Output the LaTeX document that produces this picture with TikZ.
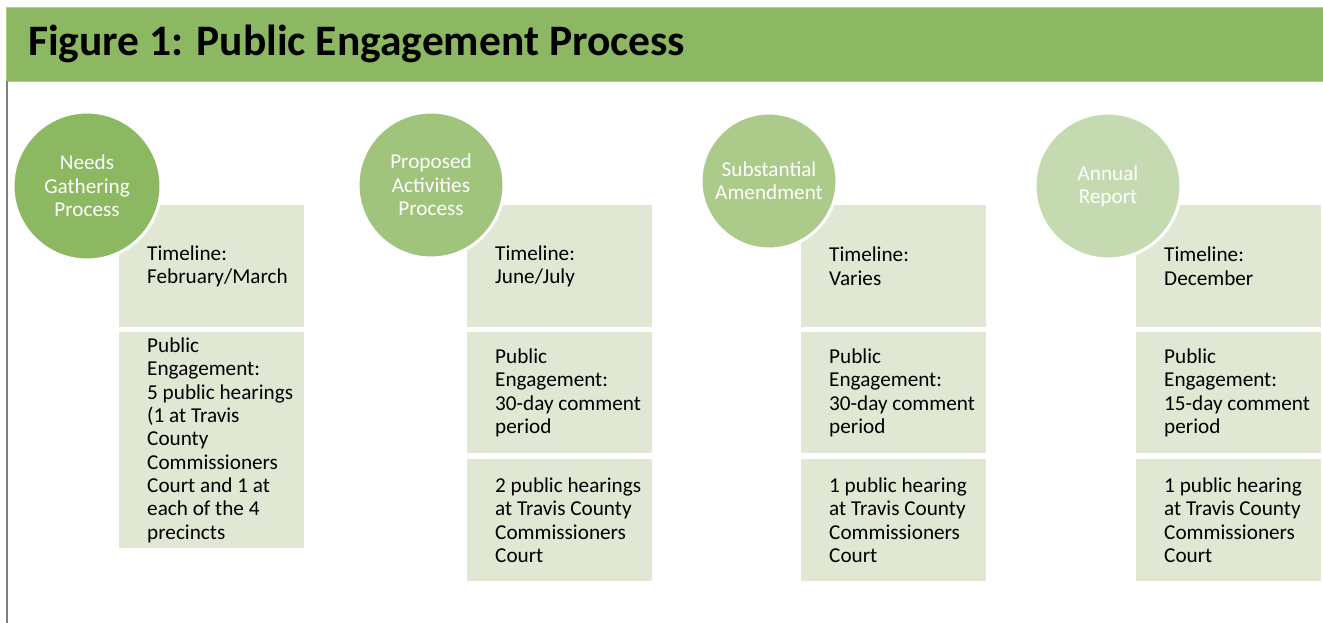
\documentclass[tikz,border=0pt]{standalone}
\usepackage{fontspec}
\setmainfont{Carlito}
\definecolor{hdr}{RGB}{141,184,99}
\definecolor{hdredge}{RGB}{178,208,140}
\definecolor{cA}{RGB}{140,184,98}
\definecolor{cB}{RGB}{160,196,124}
\definecolor{cC}{RGB}{172,203,138}
\definecolor{cD}{RGB}{197,218,176}
\definecolor{boxfill}{RGB}{224,232,212}
\definecolor{sideline}{RGB}{128,128,128}
\tikzset{
  panel/.style={rectangle, fill=boxfill, draw=none, minimum width=185, minimum height=#1, anchor=north west, inner sep=0},
  paneltext/.style={anchor=west, align=left, inner sep=0, text=black, font=\fontsize{21.2}{23.3}\selectfont},
  bubble/.style={circle, fill=#1, draw=white, line width=3, text=white, align=center, inner sep=0, font=\fontsize{21.2}{23.3}\selectfont}
}
\begin{document}
\begin{tikzpicture}[x=1pt,y=-1pt]
\useasboundingbox (0,0) rectangle (1323,623);
\fill[white] (0,0) rectangle (1323,623);
% header
\node[rectangle, fill=hdr, draw=hdredge, line width=1, minimum width=1318, minimum height=74, anchor=north west, inner sep=0] (header) at (6,7) {};
\node[anchor=west, inner sep=0, font=\fontsize{43.5}{45}\selectfont\bfseries] (title) at (28,44) {Figure 1: Public Engagement Process};
\draw[sideline, line width=2] (7,81) -- (7,623);
% column 1
\node[panel=122] (p11) at (119,205) {};
\node[panel=216] (p12) at (119,332) {};
\node[paneltext] (t11) at ([xshift=28]p11.west) {Timeline:\\February/March};
\node[paneltext] (t12) at ([xshift=28]p12.west) {Public\\Engagement:\\5 public hearings\\(1 at Travis\\County\\Commissioners\\Court and 1 at\\each of the 4\\precincts};
% column 2
\node[panel=122] (p21) at (467,205) {};
\node[panel=121] (p22) at (467,332) {};
\node[panel=122] (p23) at (467,459) {};
\node[paneltext] (t21) at ([xshift=28]p21.west) {Timeline:\\June/July};
\node[paneltext] (t22) at ([xshift=28]p22.west) {Public\\Engagement:\\30-day comment\\period};
\node[paneltext] (t23) at ([xshift=28]p23.west) {2 public hearings\\at Travis County\\Commissioners\\Court};
% column 3
\node[panel=122] (p31) at (801,205) {};
\node[panel=121] (p32) at (801,332) {};
\node[panel=122] (p33) at (801,459) {};
\node[paneltext] (t31) at ([xshift=28]p31.west) {Timeline:\\Varies};
\node[paneltext] (t32) at ([xshift=28]p32.west) {Public\\Engagement:\\30-day comment\\period};
\node[paneltext] (t33) at ([xshift=28]p33.west) {1 public hearing\\at Travis County\\Commissioners\\Court};
% column 4
\node[panel=122] (p41) at (1136,205) {};
\node[panel=121] (p42) at (1136,332) {};
\node[panel=122] (p43) at (1136,459) {};
\node[paneltext] (t41) at ([xshift=28]p41.west) {Timeline:\\December};
\node[paneltext] (t42) at ([xshift=28]p42.west) {Public\\Engagement:\\15-day comment\\period};
\node[paneltext] (t43) at ([xshift=28]p43.west) {1 public hearing\\at Travis County\\Commissioners\\Court};
% circles
\node[bubble=cA, minimum size=148] (b1) at (87,186) {Needs\\Gathering\\Process};
\node[bubble=cB, minimum size=146] (b2) at (431,185) {Proposed\\Activities\\Process};
\node[bubble=cC, minimum size=136] (b3) at (769,181) {Substantial\\Amendment};
\node[bubble=cD, minimum size=146] (b4) at (1108,186) {Annual\\Report};
\end{tikzpicture}
\end{document}
